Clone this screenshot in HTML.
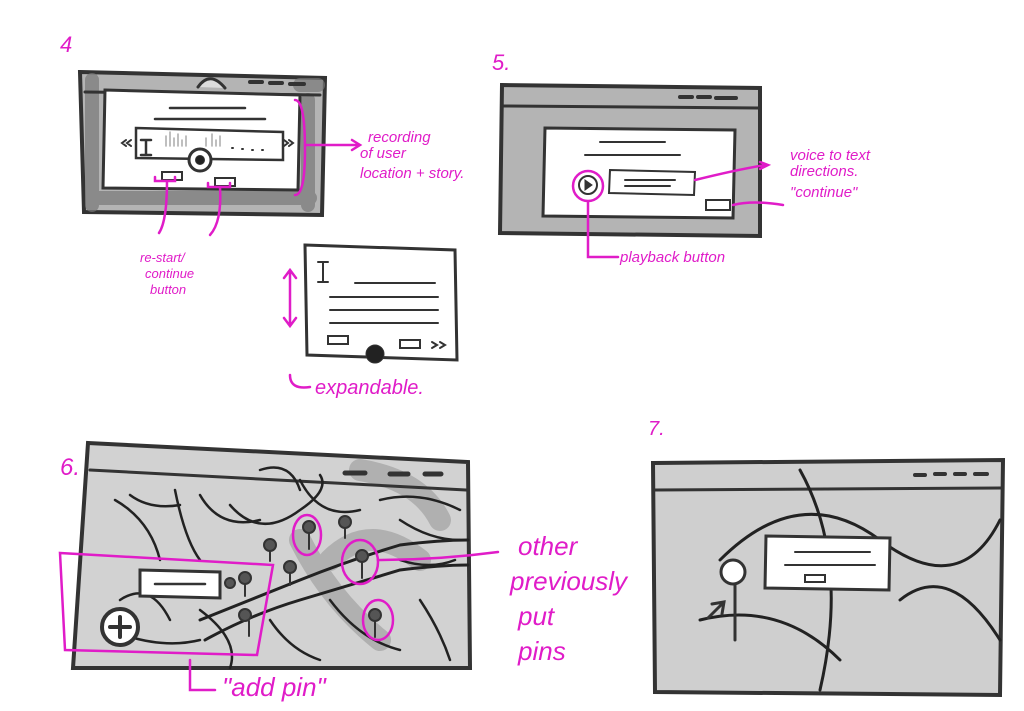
<!DOCTYPE html>
<html><head><meta charset="utf-8"><style>
html,body{margin:0;padding:0;background:#fff;}
svg{display:block}
text{font-family:"Liberation Sans",sans-serif;fill:#e01cc8;font-style:italic}
</style></head><body>
<svg width="1024" height="711" viewBox="0 0 1024 711" xmlns="http://www.w3.org/2000/svg">
<g stroke="#333" stroke-linecap="round" fill="none">
<!-- Frame 4 -->
<path d="M80 72 L325 78 L322 215 L84 212 Z" fill="#b4b4b4" stroke-width="4"/>
<g stroke="#777" stroke-width="14" opacity="0.7"><path d="M92 80v125M95 198h215M308 100v105M300 85h18"/></g>
<path d="M85 92 L320 95" stroke-width="3"/>
<path d="M198 87 Q210 70 225 88" fill="#ddd" stroke-width="3"/>
<path d="M250 82h12M270 83h12M290 84h14" stroke-width="4"/>
<path d="M105 90 L300 95 L298 190 L103 188 Z" fill="#fff" stroke-width="3"/>
<path d="M170 108h75M155 119h110" stroke-width="2.5"/>
<path d="M136 128 L283 132 L283 160 L136 158 Z" fill="#fff" stroke-width="2.5"/>
<g stroke="#aaa" stroke-width="1.5"><path d="M166 146v-10M170 146v-14M174 146v-8M178 146v-12M182 146v-6M186 146v-10M206 146v-8M212 146v-12M216 146v-6M220 146v-10"/></g>
<path d="M232 148h1M242 149h1M252 150h1M262 150h1" stroke-width="2"/>
<circle cx="200" cy="160" r="11" fill="#fff" stroke-width="3"/><circle cx="200" cy="160" r="4.5" fill="#222"/>
<path d="M146 140v15M141 140h10M141 155h10" stroke-width="2.5"/>
<path d="M126 140l-4 3 4 3M131 140l-4 3 4 3M284 140l4 3-4 3M289 140l4 3-4 3" stroke-width="2"/>
<path d="M162 172h20v8h-20zM215 178h20v8h-20z" stroke-width="2"/>
<!-- expandable card -->
<path d="M305 245 L455 250 L457 360 L307 355 Z" fill="#fff" stroke-width="3"/>
<path d="M323 262v20M318 262h10M318 282h10" stroke-width="2"/>
<path d="M355 283h80M330 297h108M330 310h108M330 323h108" stroke-width="2"/>
<path d="M328 336h20v8h-20zM400 340h20v8h-20z" stroke-width="2"/>
<path d="M432 342l5 3-5 3M440 342l5 3-5 3" stroke-width="2"/>
<circle cx="375" cy="354" r="9" fill="#222"/>
<!-- Frame 5 -->
<path d="M502 85 L760 88 L760 236 L500 233 Z" fill="#b4b4b4" stroke-width="4"/>
<path d="M503 106 L758 108" stroke-width="3"/>
<path d="M680 97h12M698 97h12M716 98h20" stroke-width="4"/>
<path d="M545 128 L735 130 L733 218 L543 216 Z" fill="#fff" stroke-width="3"/>
<path d="M600 142h65M585 155h95" stroke-width="2"/>
<path d="M610 170 L695 172 L694 195 L609 193 Z" stroke-width="2"/>
<path d="M625 180h50M625 186h45" stroke-width="2"/>
<circle cx="588" cy="185" r="9" stroke-width="2"/><path d="M585 180 l7 5 l-7 5z" fill="#333"/>
<path d="M706 200h24v10h-24z" stroke-width="2"/>
<!-- Frame 6 -->
<path d="M88 443 L468 462 L470 668 L73 668 Z" fill="#d2d2d2" stroke-width="4"/>
<g stroke="#9a9a9a" stroke-width="22" opacity="0.6"><path d="M360 470 Q420 480 440 520 M300 540 Q330 600 380 640 M330 560 Q370 520 420 560"/></g>
<path d="M90 470 L466 490" stroke-width="3"/>
<path d="M345 473h20M390 474h18M425 474h16" stroke-width="5"/>
<g stroke="#222" stroke-width="2.5">
<path d="M115 500 Q150 520 160 560 M130 495 Q150 510 180 505 M175 490 Q185 540 200 560 M200 495 Q220 530 260 520 M230 505 Q260 540 300 510 Q330 490 320 475 M260 470 Q290 460 300 490 M300 480 Q320 520 360 510 M380 500 Q420 490 460 510 M400 520 Q430 540 460 540 M120 600 Q150 580 170 620 M110 630 Q160 650 200 640 M200 610 Q240 640 230 668 M270 620 Q290 650 320 660 M330 600 Q360 640 400 650 M400 560 Q430 570 455 560 M420 600 Q440 630 450 660"/>
<path d="M200 620 Q250 600 300 580 Q350 560 400 545 Q440 540 468 540" stroke-width="3"/>
<path d="M205 640 Q250 615 300 600 Q350 585 400 570 Q440 565 468 565" stroke-width="3"/>
</g>
<path d="M140 570 L220 572 L220 598 L140 596 Z" fill="#fff" stroke-width="3"/>
<path d="M155 584h50" stroke-width="2.5"/>
<circle cx="120" cy="627" r="18" fill="#fff" stroke-width="4"/><path d="M120 617v20M110 627h20" stroke-width="4"/>
<g fill="#555" stroke-width="2">
<circle cx="245" cy="578" r="6"/><circle cx="245" cy="615" r="6"/><circle cx="270" cy="545" r="6"/><circle cx="290" cy="567" r="6"/><circle cx="309" cy="527" r="6"/><circle cx="345" cy="522" r="6"/><circle cx="362" cy="556" r="6"/><circle cx="375" cy="615" r="6"/><circle cx="230" cy="583" r="5"/>
<path d="M245 584v12M249 621v15M270 551v10M290 573v12M309 533v16M345 528v10M362 562v16M375 621v16"/></g>
<!-- Frame 7 -->
<path d="M653 463 L1003 460 L1000 695 L655 692 Z" fill="#cfcfcf" stroke-width="4"/>
<path d="M655 490 L1001 488" stroke-width="3"/>
<path d="M915 475h10M935 474h10M955 474h10M975 474h12" stroke-width="4"/>
<path d="M720 560 Q800 480 880 540 T1000 520 M700 620 Q780 600 840 660 M800 470 Q850 560 820 690 M900 600 Q950 560 1000 640" stroke="#222" stroke-width="3"/>
<path d="M766 536 L890 538 L889 590 L765 588 Z" fill="#fff" stroke-width="3"/>
<path d="M795 552h75M785 565h90" stroke-width="2"/><path d="M805 575h20v7h-20z" stroke-width="2"/>
<circle cx="733" cy="572" r="12" fill="#fff" stroke-width="3"/><path d="M735 584v56" stroke-width="3"/>
<path d="M708 618 l16 -16 M712 604 l12 -2 l-2 12" stroke-width="3"/>
</g>
<!-- magenta annotations -->
<g stroke="#e01cc8" fill="none" stroke-width="2.5" stroke-linecap="round">
<path d="M295 100 q10 0 10 50 q0 45 -10 45"/><path d="M305 145 h55 M352 140 l8 5 l-8 5"/>
<path d="M155 177v4h20v-4M208 183v4h22v-4"/>
<path d="M167 181 q0 40 -8 52 M220 187 q2 35 -10 48"/>
<path d="M290 270 v55 M284 278 l6 -8 l6 8 M284 318 l6 8 l6 -8"/>
<path d="M290 375 q0 15 20 12"/>
<circle cx="588" cy="186" r="15"/>
<path d="M588 202 v55 h30"/><path d="M695 180 q40 -10 70 -15 M733 205 q20 -5 50 0 M760 162 l8 3 l-8 4"/>
<path d="M60 553 L273 565 L257 655 L65 650 Z"/>
<path d="M190 660 v30 h25"/>
<ellipse cx="307" cy="535" rx="14" ry="20"/><ellipse cx="360" cy="562" rx="18" ry="22"/><ellipse cx="378" cy="620" rx="15" ry="20"/>
<path d="M378 560 q60 0 120 -8"/>
</g>
<g font-size="15">
<text x="60" y="52" font-size="22">4</text>
<text x="492" y="70" font-size="22">5.</text>
<text x="60" y="475" font-size="24">6.</text>
<text x="648" y="435" font-size="20">7.</text>
<text x="368" y="142">recording</text>
<text x="360" y="158">of user</text>
<text x="360" y="178">location + story.</text>
<text x="140" y="262" font-size="13">re-start/</text>
<text x="145" y="278" font-size="13">continue</text>
<text x="150" y="294" font-size="13">button</text>
<text x="315" y="394" font-size="20">expandable.</text>
<text x="790" y="160">voice to text</text>
<text x="790" y="176">directions.</text>
<text x="790" y="197">"continue"</text>
<text x="620" y="262">playback button</text>
<text x="518" y="555" font-size="26">other</text>
<text x="510" y="590" font-size="26">previously</text>
<text x="518" y="625" font-size="26">put</text>
<text x="518" y="660" font-size="26">pins</text>
<text x="222" y="696" font-size="26">"add pin"</text>
</g>
</svg>
</body></html>
